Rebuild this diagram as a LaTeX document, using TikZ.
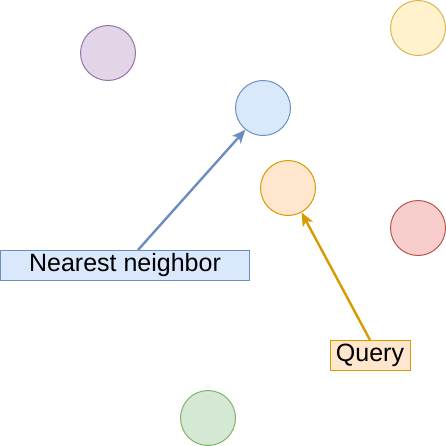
\documentclass[tikz,border=0pt]{standalone}
\usepackage{fontspec}
\setmainfont{Liberation Sans}
\usetikzlibrary{arrows.meta}
\definecolor{purplefill}{HTML}{E1D5E7}\definecolor{purpleline}{HTML}{9673A6}
\definecolor{yellowfill}{HTML}{FFF2CC}\definecolor{yellowline}{HTML}{D6B656}
\definecolor{bluefill}{HTML}{DAE8FC}\definecolor{blueline}{HTML}{6C8EBF}
\definecolor{orangefill}{HTML}{FFE6CC}\definecolor{orangeline}{HTML}{D79B00}
\definecolor{redfill}{HTML}{F8CECC}\definecolor{redline}{HTML}{B85450}
\definecolor{greenfill}{HTML}{D5E8D4}\definecolor{greenline}{HTML}{82B366}

\begin{document}
\begin{tikzpicture}[
    x=0.75pt, y=-0.75pt,
    every node/.style = {font=\fontsize{18.75}{22}\selectfont},
    point/.style = {draw, circle, minimum size=41.25pt, inner sep=0pt, line width=0.75pt},
    ppurple/.style = {point, fill=purplefill, draw=purpleline},
    pyellow/.style = {point, fill=yellowfill, draw=yellowline},
    pblue/.style   = {point, fill=bluefill, draw=blueline},
    porange/.style = {point, fill=orangefill, draw=orangeline},
    pred/.style    = {point, fill=redfill, draw=redline},
    pgreen/.style  = {point, fill=greenfill, draw=greenline},
    tag/.style = {draw, rectangle, minimum height=22.5pt, inner sep=0pt, line width=0.75pt},
    arr/.style = {-{Stealth[length=10pt, width=8.5pt, inset=2.5pt]}, line width=1.8pt},
]
\useasboundingbox (0,0) rectangle (446,446);

% data points
\node[ppurple] (purple) at (108,53)  {};
\node[pyellow] (yellow) at (418,28)  {};
\node[pblue]   (near)   at (263,108) {};
\node[porange] (query)  at (288,188) {};
\node[pred]    (red)    at (418,228) {};
\node[pgreen]  (green)  at (208,418) {};

% labels
\node[tag, fill=bluefill, draw=blueline, minimum width=186.75pt] (nnlabel) at (125,265.5) {Nearest neighbor};
\node[tag, fill=orangefill, draw=orangeline, minimum width=60pt] (qlabel) at (370,355.5) {Query};

% Arrows
\draw[arr, draw=blueline]   ([xshift=9.75pt]nnlabel.north) -- (near.231);
\draw[arr, draw=orangeline] (qlabel.north) -- (query.299);
\end{tikzpicture}
\end{document}
